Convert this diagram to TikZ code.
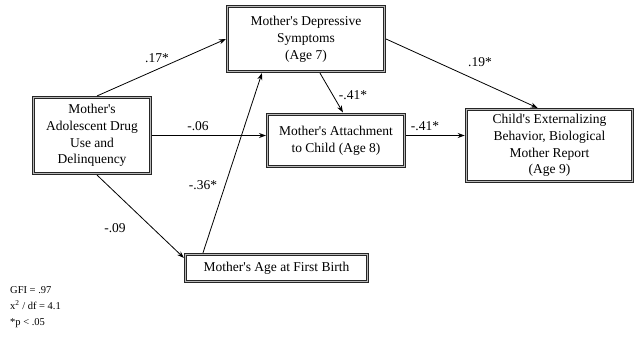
\documentclass[tikz,border=0pt]{standalone}
\usepackage{fontspec}
\setmainfont{Liberation Serif}
\usetikzlibrary{calc,arrows.meta}
\newcommand\ap{\textquotesingle}
\tikzset{
  box/.style={draw=black!85, line width=0.9pt, double=gray!55, double distance=1.4pt,
    inner sep=0pt, outer sep=1.8pt, align=center, fill=white,
    font=\fontsize{13.5}{16.8}\selectfont},
  conn/.style={-{Stealth[length=7pt,width=5pt]}, line width=0.8pt},
  lbl/.style={font=\fontsize{13.5}{16}\selectfont, inner sep=0pt},
  legend/.style={font=\fontsize{10.5}{16}\selectfont, align=left, inner sep=0pt, anchor=north west}
}
\begin{document}
\begin{tikzpicture}[x=1pt,y=-1pt]
\useasboundingbox (0,0) rectangle (634,337);
\node[box, minimum width=116.5, minimum height=75.5] (A) at (92,135.5) {Mother\ap s\\Adolescent Drug\\Use and\\Delinquency};
\node[box, minimum width=156.5, minimum height=64.5] (B) at (306,39) {Mother\ap s Depressive\\Symptoms\\(Age 7)};
\node[box, minimum width=136.5, minimum height=52.5] (C) at (336,140.5) {Mother\ap s Attachment\\to Child (Age 8)};
\node[box, minimum width=166, minimum height=71.5] (D) at (549.5,145.5) {Child\ap s Externalizing\\Behavior, Biological\\Mother Report\\(Age 9)};
\node[box, minimum width=181.5, minimum height=26.5] (E) at (276.5,268) {Mother\ap s Age at First Birth};

\draw[conn] ($(A.north)+(5,0)$) -- (B.west);
\draw[conn] (A.east) -- (A.east -| C.west);
\draw[conn] (C.east |- A.east) -- (A.east -| D.west);
\draw[conn] ($(A.south)+(5,0)$) -- ($(E.north west)+(0,5)$);
\draw[conn] ($(E.north west)+(19,0)$) -- ($(B.south west)+(36,0)$);
\draw[conn] ($(B.south west)+(94,0)$) -- ($(C.north west)+(77,0)$);
\draw[conn] (B.east) -- ($(D.north west)+(73,0)$);

\node[lbl] (l1) at (157,58) {.17*};
\node[lbl] (l2) at (198,126) {-.06};
\node[lbl] (l3) at (115,228) {-.09};
\node[lbl] (l4) at (203,185) {-.36*};
\node[lbl] (l5) at (353,95) {-.41*};
\node[lbl] (l6) at (425,126) {-.41*};
\node[lbl] (l7) at (480,62) {.19*};

\node[legend] (leg) at (10,286) {GFI = .97\\x\textsuperscript{2} / df = 4.1\\*p {\textless} .05};
\end{tikzpicture}
\end{document}
